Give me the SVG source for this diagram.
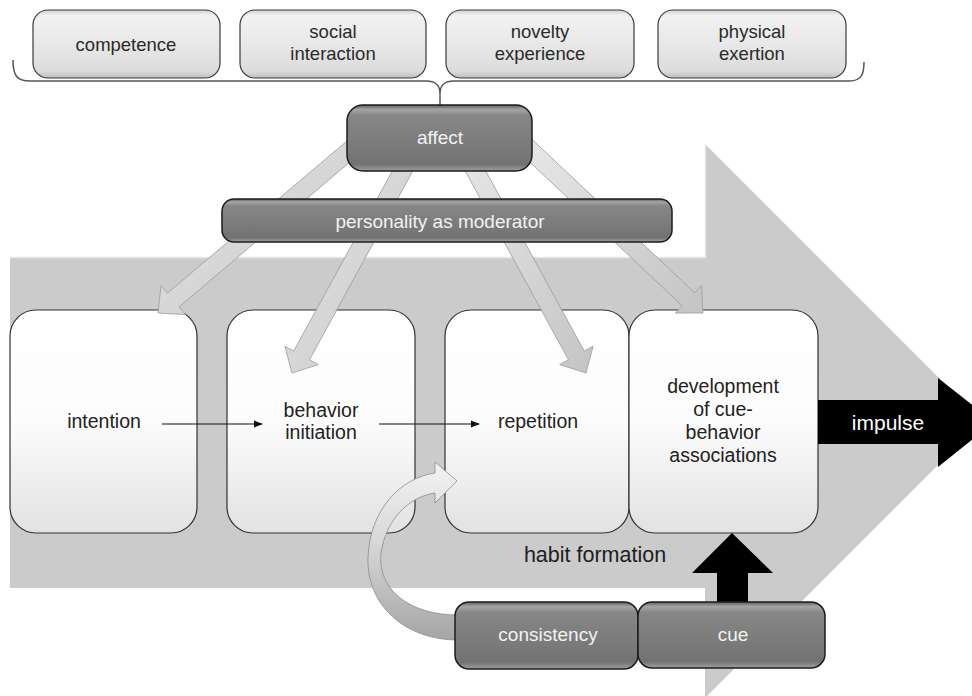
<svg xmlns="http://www.w3.org/2000/svg" width="972" height="696" viewBox="0 0 972 696">
  <defs>
    <linearGradient id="gStage" x1="0" y1="0" x2="0" y2="1">
      <stop offset="0" stop-color="#ffffff"/>
      <stop offset="0.5" stop-color="#fcfcfc"/>
      <stop offset="1" stop-color="#e2e2e2"/>
    </linearGradient>
    <linearGradient id="gLight" x1="0" y1="0" x2="0" y2="1">
      <stop offset="0" stop-color="#cfcfcf"/>
      <stop offset="0.08" stop-color="#f2f2f2"/>
      <stop offset="0.5" stop-color="#e8e8e8"/>
      <stop offset="0.9" stop-color="#dcdcdc"/>
      <stop offset="1" stop-color="#bdbdbd"/>
    </linearGradient>
    <linearGradient id="gDark" x1="0" y1="0" x2="0" y2="1">
      <stop offset="0" stop-color="#5e5e5e"/>
      <stop offset="0.07" stop-color="#a5a5a5"/>
      <stop offset="0.16" stop-color="#868686"/>
      <stop offset="0.6" stop-color="#7b7b7b"/>
      <stop offset="0.9" stop-color="#727272"/>
      <stop offset="1" stop-color="#a0a0a0"/>
    </linearGradient>
    <linearGradient id="gBlock" x1="0" y1="0" x2="1" y2="1">
      <stop offset="0" stop-color="#e9e9e9"/>
      <stop offset="1" stop-color="#c4c4c4"/>
    </linearGradient>
    <linearGradient id="gCurve" gradientUnits="userSpaceOnUse" x1="0" y1="465" x2="0" y2="645">
      <stop offset="0" stop-color="#f2f2f2"/>
      <stop offset="0.45" stop-color="#d6d6d6"/>
      <stop offset="1" stop-color="#a2a2a2"/>
    </linearGradient>
    <marker id="tip" viewBox="0 0 10 10" refX="9" refY="5" markerWidth="9" markerHeight="9" markerUnits="userSpaceOnUse" orient="auto">
      <path d="M0,1 L10,5 L0,9 Z" fill="#111"/>
    </marker>
    <style>
      text { font-family: "Liberation Sans", Arial, sans-serif; text-anchor: middle; }
      .stage { fill: url(#gStage); stroke: #333; stroke-width: 1.2; }
      .light { fill: url(#gLight); stroke: #3a3a3a; stroke-width: 1.2; }
      .dark { fill: url(#gDark); stroke: #1c1c1c; stroke-width: 1.5; }
      .block { fill: url(#gBlock); stroke: #9a9a9a; stroke-width: 0.8; }
      .tLight { fill: #2a2a2a; font-size: 18.5px; }
      .tStage { fill: #222; font-size: 19.5px; }
      .tDark { fill: #f2f2f2; font-size: 19px; }
    </style>
  </defs>

  <!-- backdrop: large process arrow -->
  <path d="M10,257 L705,257 L705,144 L982,421 L705,698 L705,588 L10,588 Z" fill="#cbcbcb"/>
  <path d="M10,257.5 L705.5,257.5 L705.5,145" fill="none" stroke="#e6e6e6" stroke-width="1.5"/>

  <!-- stage boxes -->
  <g id="intention">
    <rect class="stage" x="10" y="310" width="187" height="223" rx="26"/>
    <text class="tStage" x="104" y="428">intention</text>
  </g>
  <g id="behavior-initiation">
    <rect class="stage" x="227" y="310" width="188" height="223" rx="26"/>
    <text class="tStage" x="321" y="417">behavior</text>
    <text class="tStage" x="321" y="439">initiation</text>
  </g>
  <g id="repetition">
    <rect class="stage" x="445" y="310" width="184" height="223" rx="26"/>
    <text class="tStage" x="538" y="428">repetition</text>
  </g>
  <g id="cue-behavior">
    <rect class="stage" x="629" y="310" width="189" height="223" rx="26"/>
    <text class="tStage" x="723" y="393">development</text>
    <text class="tStage" x="723" y="416">of cue-</text>
    <text class="tStage" x="723" y="439">behavior</text>
    <text class="tStage" x="723" y="462">associations</text>
  </g>

  <!-- connectors -->
  <g id="connectors">
    <!-- influence arrows from affect through personality -->
    <polygon class="block" points="356.2,133.1 167.4,293.2 161,285.6 158,313 185.5,314.6 179.1,306.9 367.8,146.9"/>
    <polygon class="block" points="411.6,135.7 293.7,351.1 284.9,346.3 292,373 318.3,364.6 309.5,359.8 427.4,144.3"/>
    <polygon class="block" points="466.4,135.7 584.3,351.1 593.1,346.3 586,373 559.7,364.6 568.5,359.8 450.6,144.3"/>
    <polygon class="block" points="513.4,146.6 682.3,305.8 675.4,313.1 703,313 701.5,285.5 694.6,292.7 525.8,133.5"/>

    <!-- sequence arrows -->
    <line x1="162" y1="424" x2="262" y2="424" stroke="#111" stroke-width="1.2" marker-end="url(#tip)"/>
    <line x1="379" y1="424" x2="479" y2="424" stroke="#111" stroke-width="1.2" marker-end="url(#tip)"/>

    <!-- impulse output -->
    <path d="M818,400 L938,400 L938,378 L994,422 L938,467 L938,444 L818,444 Z" fill="#000"/>
    <text x="888" y="430" font-size="21px" fill="#ffffff">impulse</text>

    <!-- cue feeding the associations -->
    <path d="M717,602 L717,573 L692,573 L732,533 L773,573 L748,573 L748,602 Z" fill="#000"/>

    <!-- consistency looping back to repetition -->
    <path d="M458,640 C405,640 366,605 368,557 C370,510 400,478 435,473 L435,462 L457,481 L435,503 L435,493 C408,497 386,520 381,553 C377,590 410,615 458,615 Z" fill="url(#gCurve)" stroke="#8c8c8c" stroke-width="0.8"/>

    <!-- brace gathering the affect sources -->
    <path d="M13,60 C13,76 17,81 30,81 L426,81 C436,81 440,85 440,94 L440,108 M440,94 C440,85 444,81 454,81 L848,81 C860,81 864,77 864,62" fill="none" stroke="#555" stroke-width="1.5"/>
  </g>

  <text x="595" y="562" font-size="21.5px" fill="#1e1e1e">habit formation</text>

  <!-- affect sources -->
  <g id="competence">
    <rect class="light" x="33" y="10" width="187" height="68" rx="15"/>
    <text class="tLight" x="126" y="51">competence</text>
  </g>
  <g id="social-interaction">
    <rect class="light" x="240" y="10" width="186" height="68" rx="15"/>
    <text class="tLight" x="333" y="38">social</text>
    <text class="tLight" x="333" y="60">interaction</text>
  </g>
  <g id="novelty-experience">
    <rect class="light" x="446" y="10" width="188" height="68" rx="15"/>
    <text class="tLight" x="540" y="38">novelty</text>
    <text class="tLight" x="540" y="60">experience</text>
  </g>
  <g id="physical-exertion">
    <rect class="light" x="658" y="10" width="188" height="68" rx="15"/>
    <text class="tLight" x="752" y="38">physical</text>
    <text class="tLight" x="752" y="60">exertion</text>
  </g>

  <!-- affect and moderator -->
  <g id="affect">
    <rect class="dark" x="347" y="105" width="185" height="66" rx="16"/>
    <text class="tDark" x="440" y="144">affect</text>
  </g>
  <g id="personality">
    <rect class="dark" x="222" y="199" width="450" height="43" rx="12"/>
    <text class="tDark" x="440" y="228">personality as moderator</text>
  </g>

  <!-- habit inputs -->
  <g id="consistency">
    <rect class="dark" x="455" y="602" width="183" height="67" rx="14"/>
    <text class="tDark" x="548" y="641" font-size="18.5px">consistency</text>
  </g>
  <g id="cue">
    <rect class="dark" x="638" y="602" width="187" height="66" rx="14"/>
    <text class="tDark" x="733" y="641" font-size="18.5px">cue</text>
  </g>
</svg>
